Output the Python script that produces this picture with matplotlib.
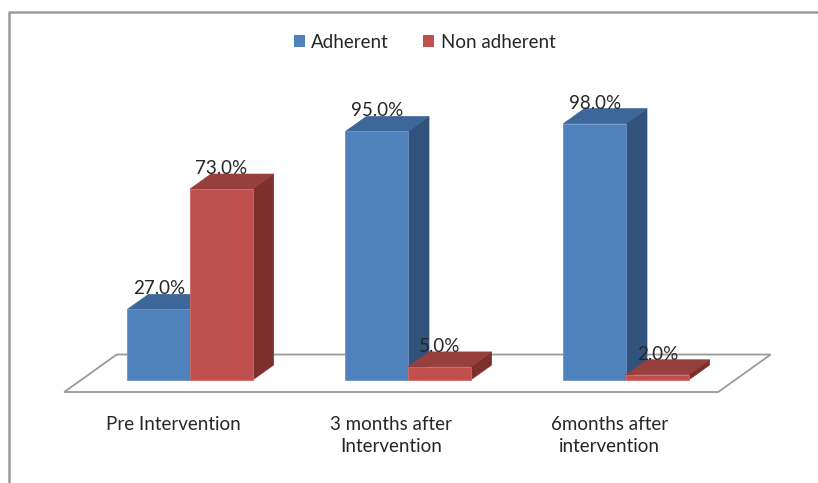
import numpy as np
import matplotlib.pyplot as plt
from matplotlib.patches import Polygon, Patch
from matplotlib.lines import Line2D

plt.rcParams['font.family'] = ['Lato', 'DejaVu Sans']

categories = ["Pre Intervention", "3 months after\nIntervention", "6months after\nintervention"]
series_names = ["Adherent", "Non adherent"]
adherent = [27.0, 95.0, 98.0]
non_adherent = [73.0, 5.0, 2.0]

# front / top / side shades for the 3D look
shades = {
    "Adherent": ("#4F81BD", "#3D6699", "#30527B"),
    "Non adherent": ("#C0504D", "#973F3C", "#7C2F2D"),
}

fig = plt.figure(figsize=(8.18, 4.83), dpi=100)
ax = fig.add_axes([0, 0, 1, 1])
ax.set_xlim(-0.8716, 2.8807)
ax.set_ylim(-39.37, 145.26)
ax.axis("off")

# depth vector of a bar, in data units
DX, DY = 0.0963, 5.73
bar_w = 0.287

# floor of the 3D plot
f0, f1 = -0.8, 1.7
floor = np.array([
    [-0.5 + f0 * DX, f0 * DY],
    [2.5 + f0 * DX, f0 * DY],
    [2.5 + f1 * DX, f1 * DY],
    [-0.5 + f1 * DX, f1 * DY],
])
ax.add_patch(Polygon(floor, closed=True, facecolor="white", edgecolor="#9a9a9a",
                     lw=1.3, zorder=1))


def bar3d(x0, h, name, z):
    front, top, side = shades[name]
    x1 = x0 + bar_w
    ax.add_patch(Polygon([[x1, 0], [x1 + DX, DY], [x1 + DX, h + DY], [x1, h]],
                         facecolor=side, edgecolor=side, lw=0.5, zorder=z))
    ax.add_patch(Polygon([[x0, h], [x1, h], [x1 + DX, h + DY], [x0 + DX, h + DY]],
                         facecolor=top, edgecolor=top, lw=0.5, zorder=z))
    ax.bar(x0, h, width=bar_w, align="edge", color=front,
           edgecolor="#6f94c8" if name == "Adherent" else "#d06a67",
           lw=0.6, zorder=z + 0.5)
    ax.text(x0 + bar_w / 2, h + DY, f"{h:.1f}%", ha="center", va="baseline",
            fontsize=13.5, color="#262626", zorder=10)


x = np.arange(len(categories))
for i in range(len(categories)):
    bar3d(x[i] - bar_w, adherent[i], "Adherent", 2 + i * 2)
    bar3d(x[i], non_adherent[i], "Non adherent", 3 + i * 2)
    ax.text(x[i] + f0 * DX, -13.6, categories[i], ha="center", va="top",
            fontsize=13.5, color="#262626", linespacing=1.42)

handles = [Patch(facecolor=shades[n][0], edgecolor="none") for n in series_names]
fig.legend(handles, series_names, loc="center", bbox_to_anchor=(0.519, 0.913), ncol=2,
           frameon=False, fontsize=13.5, handlelength=0.6, handleheight=0.6,
           handletextpad=0.35, columnspacing=1.8, labelcolor="#262626")

# chart area border (runs off the right and bottom edges)
fig.add_artist(Line2D([8.5 / 818, 8.5 / 818, 1.0], [0, 1 - 11.5 / 483, 1 - 11.5 / 483],
                      transform=fig.transFigure, color="#9a9a9a", lw=1.8))

fig.savefig("out.png", dpi=100)
